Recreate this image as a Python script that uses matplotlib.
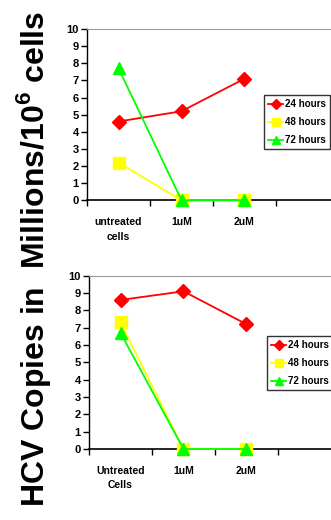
import numpy as np
import matplotlib.pyplot as plt
from matplotlib.ticker import FixedLocator

plt.rcParams['font.family'] = ['Liberation Sans Narrow', 'Liberation Sans', 'DejaVu Sans']
plt.rcParams['mathtext.fontset'] = 'custom'
plt.rcParams['mathtext.rm'] = 'Liberation Sans:bold'
plt.rcParams['mathtext.bf'] = 'Liberation Sans:bold'

series = ['24 hours', '48 hours', '72 hours']
top_labels = ['untreated\ncells', '1uM', '2uM']
top_24 = [4.6, 5.2, 7.1]
top_48 = [2.2, 0, 0]
top_72 = [7.7, 0, 0]

bot_labels = ['Untreated\nCells', '1uM', '2uM']
bot_24 = [8.6, 9.1, 7.2]
bot_48 = [7.3, 0, 0]
bot_72 = [6.7, 0, 0]

styles = [('#ff0000', 'D', 7), ('#ffff00', 's', 8), ('#00ff00', '^', 8)]

fig = plt.figure(figsize=(3.31, 5.2), dpi=100)
ax1 = fig.add_axes([0.263, 0.6148, 0.761, 0.3294])
ax2 = fig.add_axes([0.269, 0.1365, 0.761, 0.3333])


def draw(ax, labels, data, leg_pos):
    x = np.arange(len(labels))
    for vals, (c, m, ms), name in zip(data, styles, series):
        ax.plot(x, vals, color=c, marker=m, markersize=ms, lw=1.3,
                markeredgecolor=c, label=name, clip_on=False, zorder=3)
    ax.set_xlim(-0.5, 3.5)
    ax.set_ylim(0, 10)
    ax.set_yticks(range(0, 11))
    ax.set_xticks(x)
    ax.set_xticklabels(labels, fontsize=7.5, fontweight='bold',
                       linespacing=1.6)
    ax.xaxis.set_minor_locator(FixedLocator(np.arange(-0.5, 4, 1)))
    ax.tick_params(axis='x', which='major', length=0, pad=12)
    ax.tick_params(axis='x', which='minor', length=4, width=1, direction='out')
    ax.tick_params(axis='y', length=4, width=1, direction='out', pad=2,
                   labelsize=8)
    for t in ax.get_yticklabels():
        t.set_fontweight('bold')
    ax.spines['left'].set_color('black')
    ax.spines['bottom'].set_color('black')
    ax.spines['left'].set_linewidth(1)
    ax.spines['bottom'].set_linewidth(1.2)
    ax.spines['top'].set_color('#999999')
    ax.spines['right'].set_visible(False)
    leg = ax.legend(loc='upper left', bbox_to_anchor=leg_pos,
                    bbox_transform=fig.transFigure, frameon=True,
                    fancybox=False, edgecolor='black', handlelength=1.5,
                    handletextpad=0.2, borderpad=0.45, labelspacing=0.8,
                    borderaxespad=0, markerscale=0.75,
                    prop={'weight': 'bold', 'size': 7})
    leg.get_frame().set_linewidth(1)
    return leg


draw(ax1, top_labels, [top_24, top_48, top_72], (264 / 331, 1 - 95 / 520))
draw(ax2, bot_labels, [bot_24, bot_48, bot_72], (267 / 331, 1 - 336 / 520))

fig.text(0.1, 0.503, r'HCV Copies in  Millions/10$^{6}$ cells',
         rotation=90, ha='center', va='center', fontsize=23,
         fontweight='bold', family=['Liberation Sans', 'DejaVu Sans'])

fig.savefig('out.png', dpi=100)
